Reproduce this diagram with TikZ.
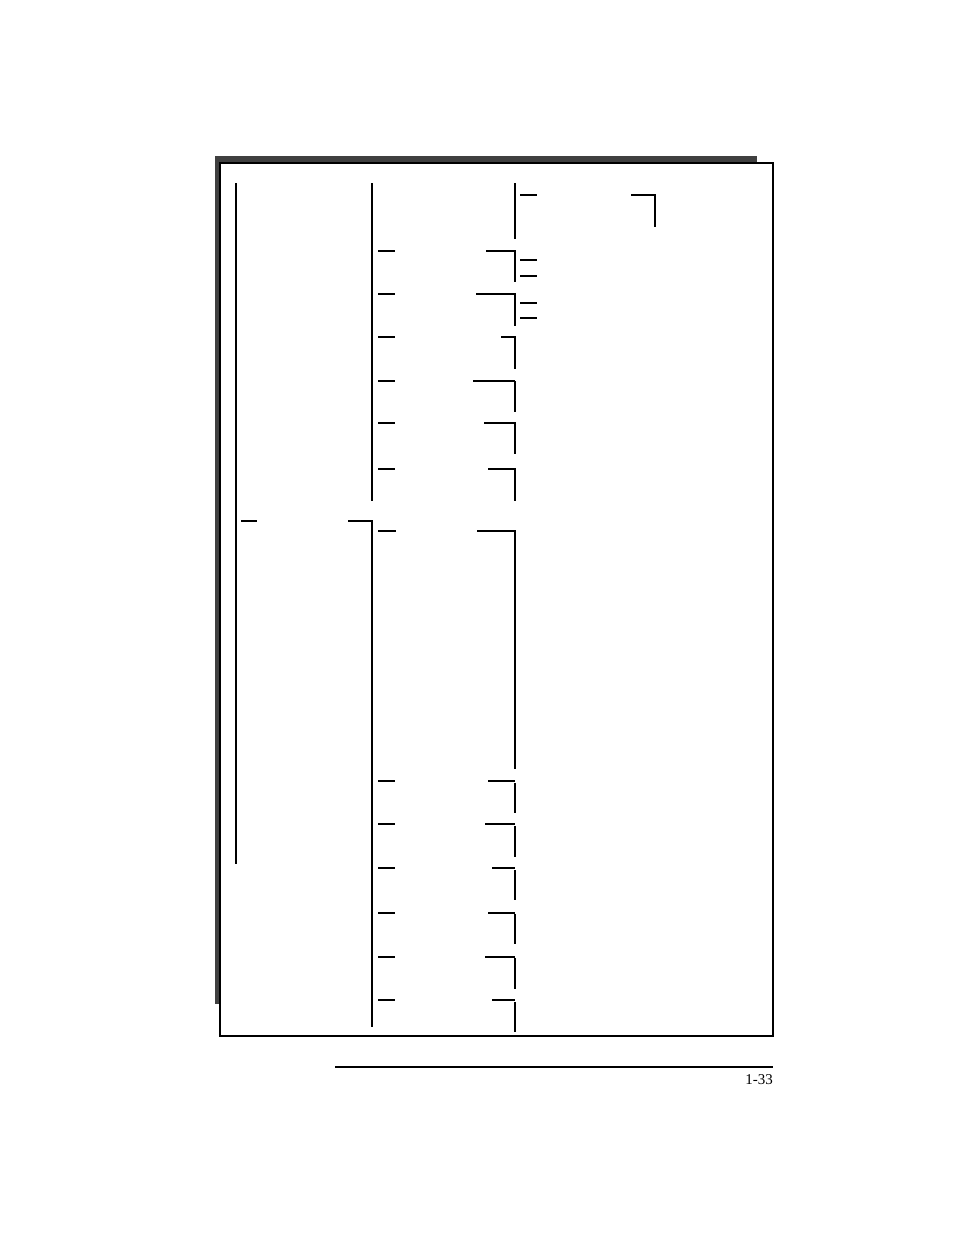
\documentclass[tikz,border=0pt]{standalone}
\usepackage{fontspec}
\setmainfont{Liberation Serif}
\definecolor{shadowgray}{HTML}{404040}
\tikzset{
  thinln/.style={line width=1.4pt, line cap=butt},
  thickln/.style={line width=2.8pt, line cap=butt},
  boxln/.style={line width=1.2pt},
  pagenum/.style={anchor=base east, font=\fontsize{15}{15}\selectfont, inner sep=0pt}
}
\begin{document}
\begin{tikzpicture}[x=1pt,y=-1pt]
\path[use as bounding box, fill=white] (0,0) rectangle (954,1235);
% shadow and frame
\fill[shadowgray] (215,156) rectangle (757,1004);
\draw[boxln, fill=white] (220,163) rectangle (773,1036);
% leftmost spine
\draw[thinln] (236,183) -- (236,864);
\draw[thinln] (241,521) -- (257,521);
% second level upper spine
\draw[thickln] (372,183) -- (372,501);
% second level lower spine
\draw[thinln] (348,521) -- (372,521);
\draw[thickln] (372,520) -- (372,1027);
% first block (top)
\draw[thinln] (515,183) -- (515,239);
\draw[thinln] (520,195) -- (537,195);
\draw[thinln] (631,195) -- (655,195) -- (655,227);
% upper group rows
\foreach \y/\bx/\yy in {251/486/282, 294/476/326, 337/501/369, 423/484/454, 469/488/501}{
  \draw[thinln] (378,\y) -- (395,\y);
  \draw[thinln] (\bx,\y) -- (515,\y) -- (515,\yy);
}
\draw[thickln] (378,381) -- (395,381);
\draw[thickln] (473,381) -- (515,381);
\draw[thinln] (515,381) -- (515,412);
% sub ticks
\draw[thinln] (520,260) -- (537,260);
\draw[thinln] (520,276) -- (537,276);
\draw[thinln] (520,303) -- (537,303);
\draw[thickln] (520,318) -- (537,318);
% lower group
\draw[thinln] (378,531) -- (396,531);
\draw[thinln] (477,531) -- (515,531) -- (515,769);
\foreach \y/\bx/\yy in {781/488/813, 824/485/857, 868/492/900, 1000/492/1032}{
  \draw[thinln] (378,\y) -- (395,\y);
  \draw[thinln] (\bx,\y) -- (515,\y);
  \draw[thickln] (515,\y+2) -- (515,\yy);
}
\foreach \y/\bx/\yy in {913/488/944, 957/485/989}{
  \draw[thickln] (378,\y) -- (395,\y);
  \draw[thickln] (\bx,\y) -- (515,\y);
  \draw[thickln] (515,\y+1) -- (515,\yy);
}
% footer
\draw[thinln] (335,1067) -- (773,1067);
\node[pagenum] (pg) at (773,1084) {1-33};
\end{tikzpicture}
\end{document}
